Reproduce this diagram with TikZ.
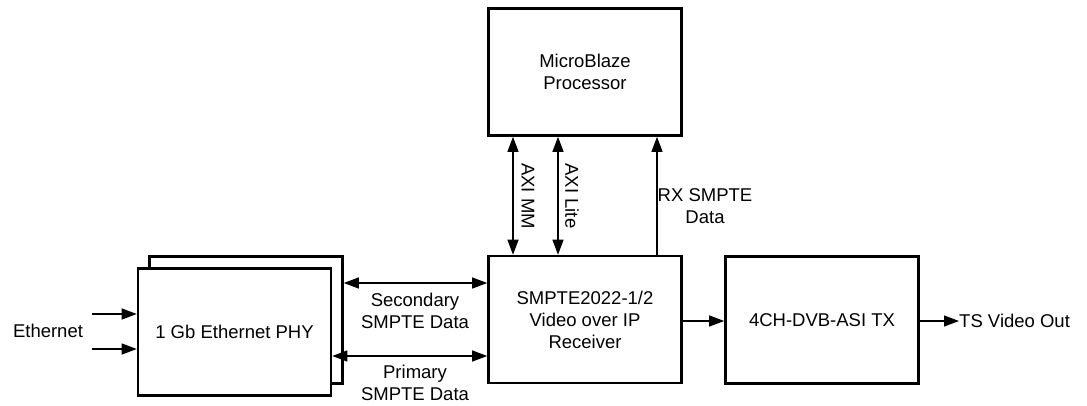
\documentclass[tikz,border=0pt]{standalone}
\usepackage{fontspec}
\setmainfont{Liberation Sans}
\usetikzlibrary{arrows.meta}
\begin{document}
\begin{tikzpicture}[x=1pt,y=-1pt,
  blk/.style={draw=black,line width=2.6pt,fill=white,minimum width=#1,minimum height=127pt,inner sep=0pt,align=center},
  blk/.default=193pt,
  conn/.style={line width=1.2pt,-{Triangle[length=15pt,width=11pt]}},
  bconn/.style={line width=1.2pt,{Triangle[length=15pt,width=11pt]}-{Triangle[length=15pt,width=11pt]}},
  lbl/.style={inner sep=0pt,align=center},
  every node/.style={font=\fontsize{18.5}{22}\selectfont}]
\useasboundingbox (0,0) rectangle (1087,405);
% blocks
\node[blk] (phyb) at (246,320) {};
\node[blk] (phy) at (234.5,332) {1 Gb Ethernet PHY};
\node[blk] (smpte) at (585,319.5) {SMPTE2022-1/2\\Video over IP\\Receiver};
\node[blk] (dvb) at (822,320) {4CH-DVB-ASI TX};
\node[blk] (mb) at (585,72) {MicroBlaze\\Processor};
% Ethernet inputs
\coordinate (e1) at (92,314);
\coordinate (e2) at (92,349);
\draw[conn] (e1) -- (phy.west |- e1);
\draw[conn] (e2) -- (phy.west |- e2);
\node[lbl] (eth) at (48,331) {Ethernet};
% PHY <-> SMPTE
\coordinate (s1) at (0,283);
\coordinate (p1) at (0,356);
\draw[bconn] (phyb.east |- s1) -- (smpte.west |- s1);
\draw[bconn] (phy.east |- p1) -- (smpte.west |- p1);
\node[lbl] (sec) at (415,311) {Secondary\\SMPTE Data};
\node[lbl] (pri) at (415,383) {Primary\\SMPTE Data};
% MB <-> SMPTE
\coordinate (a1) at (513,0);
\coordinate (a2) at (558,0);
\coordinate (a3) at (657,0);
\draw[bconn] (mb.south -| a1) -- (smpte.north -| a1);
\draw[bconn] (mb.south -| a2) -- (smpte.north -| a2);
\draw[conn] (smpte.north -| a3) -- (mb.south -| a3);
\node[lbl,rotate=-90] (axm) at (528,196) {AXI MM};
\node[lbl,rotate=-90] (axl) at (572,196) {AXI Lite};
\node[lbl] (rx) at (705,206) {RX SMPTE\\Data};
% SMPTE -> DVB -> out
\coordinate (d1) at (0,321);
\draw[conn] (smpte.east |- d1) -- (dvb.west |- d1);
\node[lbl,anchor=west] (out) at (959,321) {TS Video Out};
\draw[conn] (dvb.east |- out.west) -- (out.west);
\end{tikzpicture}
\end{document}
